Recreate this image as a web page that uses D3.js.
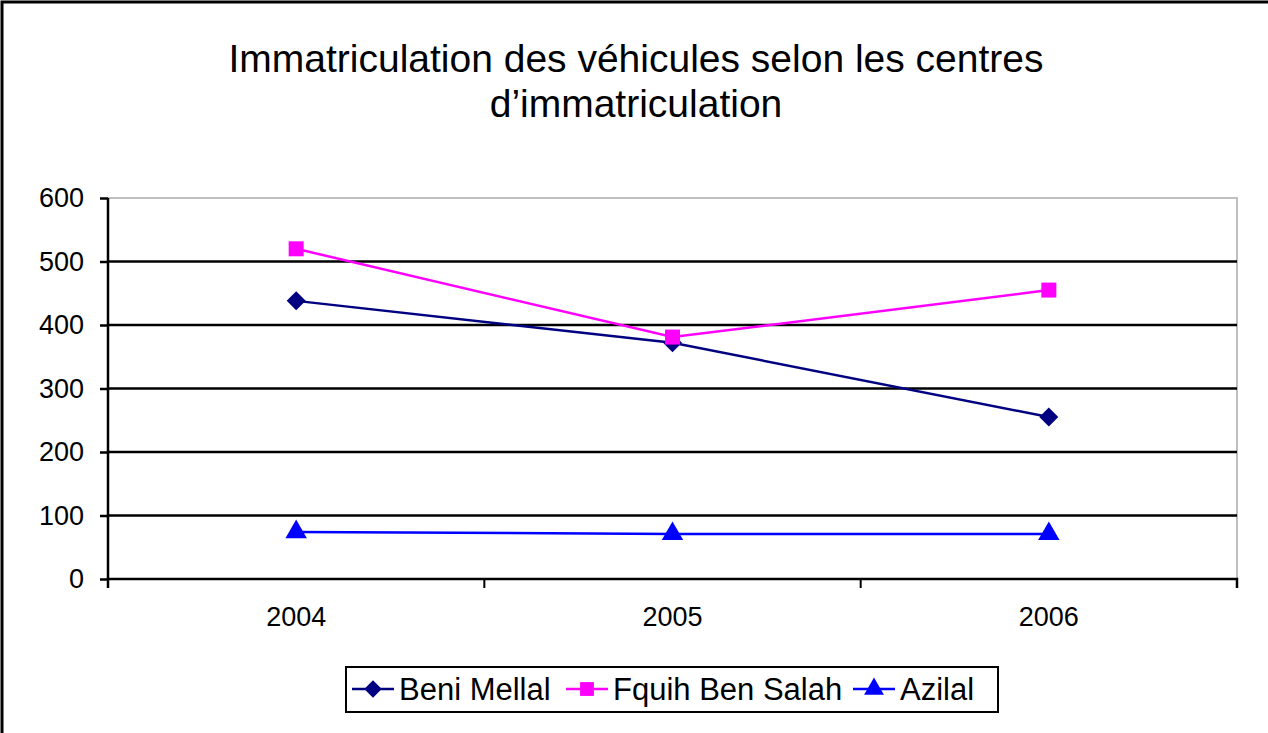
<!DOCTYPE html>
<html>
<head>
<meta charset="utf-8">
<script src="https://cdnjs.cloudflare.com/ajax/libs/d3/7.8.5/d3.min.js"></script>
<style>
  body { margin: 0; background: #fff; }
  text { font-family: "Liberation Sans", Arial, sans-serif; }
</style>
</head>
<body>
<script>
// data
var years = ["2004", "2005", "2006"];
var beniMellal = [438, 372, 255];
var fquihBenSalah = [520, 381, 455];
var azilal = [74, 71, 71];
var yTicks = [0, 100, 200, 300, 400, 500, 600];

var series = [
  { name: "Beni Mellal", values: beniMellal, color: "#000080", marker: d3.symbolDiamond2 },
  { name: "Fquih Ben Salah", values: fquihBenSalah, color: "#ff00ff", marker: d3.symbolSquare },
  { name: "Azilal", values: azilal, color: "#0000ff", marker: d3.symbolTriangle }
];

var w = 1268, h = 733;
var plotLeft = 108, plotRight = 1237, plotTop = 198, plotBottom = 579;

var svg = d3.select("body").append("svg")
  .attr("width", w)
  .attr("height", h);

// outer frame (right/bottom edges fall outside the picture)
svg.append("rect")
  .attr("x", 2).attr("y", 2)
  .attr("width", w + 10).attr("height", h + 10)
  .attr("fill", "none")
  .attr("stroke", "#000")
  .attr("stroke-width", 3);

// title
var title = svg.append("text")
  .attr("text-anchor", "middle")
  .attr("font-size", "39px")
  .attr("fill", "#000");
title.append("tspan").attr("x", 636).attr("y", 72).text("Immatriculation des véhicules selon les centres");
title.append("tspan").attr("x", 636).attr("y", 117).text("d’immatriculation");

var x = d3.scaleBand().domain(years).range([plotLeft, plotRight]);
var y = d3.scaleLinear().domain([0, 600]).range([plotBottom, plotTop]);

// plot area border (grey top/right)
svg.append("path")
  .attr("d", "M" + plotLeft + "," + plotTop + "H" + plotRight + "V" + plotBottom)
  .attr("fill", "none")
  .attr("stroke", "#c0c0c0")
  .attr("stroke-width", 2);

// gridlines
svg.selectAll(".grid")
  .data(yTicks.filter(function(d) { return d > 0 && d < 600; }))
  .enter().append("line")
  .attr("class", "grid")
  .attr("x1", plotLeft).attr("x2", plotRight)
  .attr("y1", function(d) { return y(d); })
  .attr("y2", function(d) { return y(d); })
  .attr("stroke", "#000")
  .attr("stroke-width", 2.5);

// y axis
var yAxis = svg.append("g")
  .attr("transform", "translate(" + plotLeft + ",0)")
  .call(d3.axisLeft(y).tickValues(yTicks).tickSize(8).tickPadding(16));
yAxis.select(".domain").attr("stroke-width", 2.5).attr("d", "M0," + plotTop + "V" + plotBottom);
yAxis.selectAll(".tick line").attr("stroke-width", 2.5);
yAxis.selectAll(".tick text")
  .attr("font-size", "27px")
  .attr("font-family", "'Liberation Sans', Arial, sans-serif")
  .attr("fill", "#000");

// x axis
var xAxis = svg.append("g")
  .attr("transform", "translate(0," + plotBottom + ")")
  .call(d3.axisBottom(x).tickSize(0).tickPadding(28));
xAxis.select(".domain").attr("stroke-width", 2.5).attr("d", "M" + plotLeft + ",9V0H" + plotRight + "V9");
xAxis.selectAll(".tick text")
  .attr("font-size", "27px")
  .attr("font-family", "'Liberation Sans', Arial, sans-serif")
  .attr("fill", "#000");
// category separators
xAxis.selectAll(".sep")
  .data(years.slice(1))
  .enter().append("line")
  .attr("x1", function(d) { return x(d); })
  .attr("x2", function(d) { return x(d); })
  .attr("y1", 0).attr("y2", 9)
  .attr("stroke", "#000")
  .attr("stroke-width", 2);

var cx = function(i) { return x(years[i]) + x.bandwidth() / 2; };

var line = d3.line()
  .x(function(d, i) { return cx(i); })
  .y(function(d) { return y(d); });

series.forEach(function(s) {
  svg.append("path")
    .attr("d", line(s.values))
    .attr("fill", "none")
    .attr("stroke", s.color)
    .attr("stroke-width", 2.5);
});

function markerSize(s) {
  if (s.marker === d3.symbolSquare) return 225;
  if (s.marker === d3.symbolTriangle) return 200;
  return 230;
}

series.forEach(function(s) {
  svg.selectAll(null)
    .data(s.values)
    .enter().append("path")
    .attr("d", d3.symbol().type(s.marker).size(markerSize(s)))
    .attr("transform", function(d, i) { return "translate(" + cx(i) + "," + y(d) + ")"; })
    .attr("fill", s.color);
});

// legend
var legend = svg.append("g");
legend.append("rect")
  .attr("x", 346).attr("y", 667)
  .attr("width", 652).attr("height", 45)
  .attr("fill", "#fff")
  .attr("stroke", "#000")
  .attr("stroke-width", 2);

var legendX = [352, 566, 853];
series.forEach(function(s, i) {
  var g = legend.append("g").attr("transform", "translate(" + legendX[i] + ",689)");
  g.append("line")
    .attr("x1", 0).attr("x2", 42)
    .attr("y1", 0).attr("y2", 0)
    .attr("stroke", s.color)
    .attr("stroke-width", 2.5);
  g.append("path")
    .attr("d", d3.symbol().type(s.marker).size(markerSize(s) * 0.85))
    .attr("transform", "translate(21,0)")
    .attr("fill", s.color);
  g.append("text")
    .attr("x", 47).attr("y", 11)
    .attr("font-size", "31px")
    .attr("fill", "#000")
    .text(s.name);
});
</script>
</body>
</html>
